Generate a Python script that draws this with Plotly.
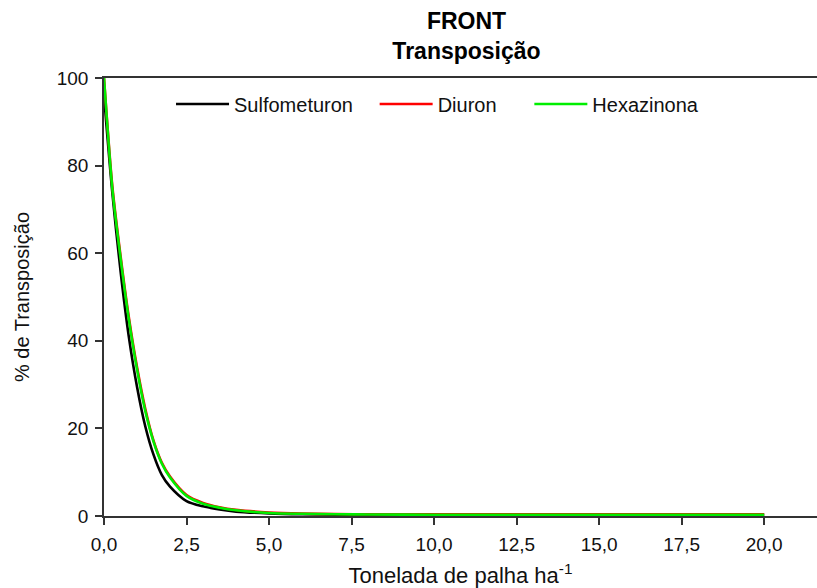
import plotly.graph_objects as go

# Straw (t/ha) sample points and % transposition
x_vals = [0, 0.25, 0.5, 0.75, 1.0, 1.25, 1.5, 1.75, 2.0, 2.5, 3.0, 3.5, 4.0, 5.0, 6.0, 7.0, 8.0, 10.0, 12.5, 15.0, 17.5, 20.0]
sulfometuron = [96, 74, 56, 41, 29.5, 20.5, 14, 9.4, 6.7, 3.4, 2.2, 1.5, 1.0, 0.6, 0.4, 0.3, 0.3, 0.3, 0.3, 0.3, 0.3, 0.3]
diuron = [100, 75.5, 59.5, 45.5, 34, 24.5, 17.2, 12.2, 9.0, 4.8, 3.0, 2.0, 1.4, 0.8, 0.55, 0.45, 0.4, 0.4, 0.4, 0.4, 0.4, 0.4]
hexazinona = [100, 75, 59, 45, 33.5, 24, 17, 12, 8.8, 4.6, 2.8, 1.9, 1.3, 0.7, 0.5, 0.4, 0.35, 0.3, 0.3, 0.3, 0.3, 0.3]

x_tickvals = [0, 2.5, 5, 7.5, 10, 12.5, 15, 17.5, 20]
x_ticktext = ["0,0", "2,5", "5,0", "7,5", "10,0", "12,5", "15,0", "17,5", "20,0"]
y_tickvals = [0, 20, 40, 60, 80, 100]

NB = "\u00a0"
series = [
    ("Sulfometuron", sulfometuron, "#000000", 3),
    ("Diuron", diuron, "#ff0000", 5),
    ("Hexazinona", hexazinona, "#00ee00", 0),
]

fig = go.Figure()
for name, ys, color, pad in series:
    fig.add_trace(go.Scatter(
        x=x_vals, y=ys, name=name + NB * pad, mode="lines",
        line=dict(color=color, width=2.6, shape="spline", smoothing=0.8),
    ))

font_family = "Liberation Sans, Arial, sans-serif"

fig.update_layout(
    width=817, height=588,
    margin=dict(l=104, r=0, t=78, b=72),
    paper_bgcolor="white", plot_bgcolor="white",
    font=dict(family=font_family, color="#111111", size=19),
    title=dict(
        text="<b>FRONT</b><br><b>Transposição</b>",
        xref="container", x=0.571, xanchor="center",
        yref="container", y=0.950, yanchor="middle",
        font=dict(size=23, family=font_family, color="#000000"),
    ),
    showlegend=True,
    legend=dict(
        orientation="h", x=0.094, y=0.985, xanchor="left", yanchor="top",
        bgcolor="rgba(0,0,0,0)", font=dict(size=20, family=font_family),
        itemwidth=53, tracegroupgap=0,
    ),
    xaxis=dict(
        range=[0, 21.6], tickmode="array", tickvals=x_tickvals, ticktext=x_ticktext,
        showgrid=False, zeroline=False, showline=True, linecolor="#333333", linewidth=1.5,
        ticks="outside", ticklen=7, tickwidth=1.5, tickcolor="#333333",
        tickfont=dict(size=19), mirror=True, ticklabelstandoff=3,
        title=dict(text="Tonelada de palha ha<sup>-1</sup>", font=dict(size=22), standoff=18),
    ),
    yaxis=dict(
        range=[0, 100], tickmode="array", tickvals=y_tickvals,
        showgrid=False, zeroline=False, showline=True, linecolor="#333333", linewidth=1.5,
        ticks="outside", ticklen=7, tickwidth=1.5, tickcolor="#333333",
        tickfont=dict(size=19), ticklabelstandoff=3,
        title=dict(text="% de Transposição", font=dict(size=20), standoff=22),
    ),
)

fig.write_html(
    "out.html",
    config={"displayModeBar": False},
    post_script="document.body.style.margin='0';document.body.style.overflow='hidden';",
)
